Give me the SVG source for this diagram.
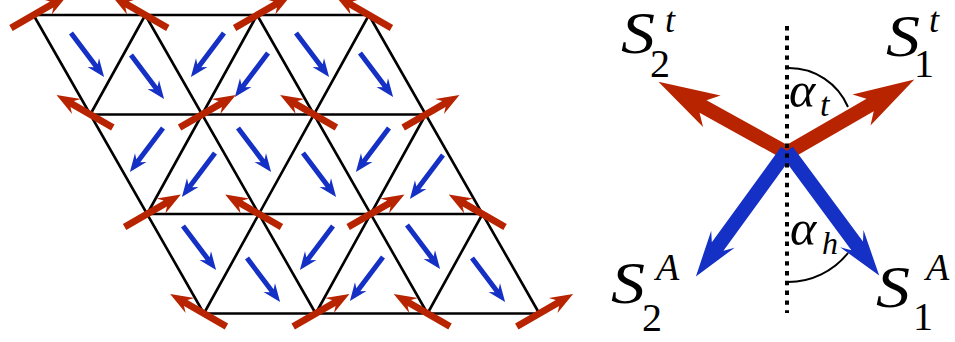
<svg xmlns="http://www.w3.org/2000/svg" xmlns:xlink="http://www.w3.org/1999/xlink" width="955" height="342" viewBox="0 0 955 342">
<style>
.lat{fill:none;stroke:#000;stroke-width:2.6}
.red{fill:#B82300}
.blue{fill:#1530C5}
</style>
<defs>
<path id="rs" class="red" d="M-26,-3.4 H21 L16,-8.8 L39,0 L16,8.8 L21,3.4 H-26 Z"/>
<path id="bs" class="blue" d="M0,-2.5 H41 L37,-7.2 L55,0 L37,7.2 L41,2.5 H0 Z"/>
<path id="rb" class="red" d="M0,-7.2 H96 L86,-18 L147,0 L86,18 L96,7.2 H0 Z"/>
<path id="bb" class="blue" d="M0,-7.2 H118 L109,-14.5 L155,0 L109,14.5 L118,7.2 H0 Z"/>
</defs>
<rect width="955" height="342" fill="#fff"/>
<g id="lattice" class="lat">
<path d="M33.5,15 H368.9 M90.3,114.5 H425.7 M147.1,214 H482.5 M203.9,313.5 H539.3"/>
<path d="M33.5,15 L203.9,313.5 M145.3,15 L315.7,313.5 M257.1,15 L427.5,313.5 M368.9,15 L539.3,313.5"/>
<path d="M145.3,15 L90.3,114.5 M257.1,15 L147.1,214 M368.9,15 L203.9,313.5 M425.7,114.5 L315.7,313.5 M482.5,214 L427.5,313.5"/>
</g>
<g id="blue-spins">
<use xlink:href="#bs" transform="translate(71,33) rotate(53)"/>
<use xlink:href="#bs" transform="translate(131,55) rotate(53)"/>
<use xlink:href="#bs" transform="translate(224,33) rotate(127)"/>
<use xlink:href="#bs" transform="translate(268,53) rotate(127)"/>
<use xlink:href="#bs" transform="translate(296,33) rotate(53)"/>
<use xlink:href="#bs" transform="translate(360,53) rotate(53)"/>
<use xlink:href="#bs" transform="translate(163,128) rotate(127)"/>
<use xlink:href="#bs" transform="translate(215,153) rotate(127)"/>
<use xlink:href="#bs" transform="translate(238,128) rotate(53)"/>
<use xlink:href="#bs" transform="translate(303,153) rotate(53)"/>
<use xlink:href="#bs" transform="translate(389,128) rotate(127)"/>
<use xlink:href="#bs" transform="translate(443,155) rotate(127)"/>
<use xlink:href="#bs" transform="translate(183,226) rotate(53)"/>
<use xlink:href="#bs" transform="translate(247,258) rotate(53)"/>
<use xlink:href="#bs" transform="translate(333,226) rotate(127)"/>
<use xlink:href="#bs" transform="translate(383,257) rotate(127)"/>
<use xlink:href="#bs" transform="translate(407,225) rotate(53)"/>
<use xlink:href="#bs" transform="translate(472,258) rotate(53)"/>
</g>
<g id="red-spins">
<use xlink:href="#rs" transform="translate(33.5,15) rotate(-30)"/>
<use xlink:href="#rs" transform="translate(145.3,15) rotate(-150)"/>
<use xlink:href="#rs" transform="translate(257.1,15) rotate(-30)"/>
<use xlink:href="#rs" transform="translate(368.9,15) rotate(-150)"/>
<use xlink:href="#rs" transform="translate(90.3,114.5) rotate(-150)"/>
<use xlink:href="#rs" transform="translate(202.1,114.5) rotate(-30)"/>
<use xlink:href="#rs" transform="translate(313.9,114.5) rotate(-150)"/>
<use xlink:href="#rs" transform="translate(425.7,114.5) rotate(-30)"/>
<use xlink:href="#rs" transform="translate(147.1,214) rotate(-30)"/>
<use xlink:href="#rs" transform="translate(258.9,214) rotate(-150)"/>
<use xlink:href="#rs" transform="translate(370.7,214) rotate(-30)"/>
<use xlink:href="#rs" transform="translate(482.5,214) rotate(-150)"/>
<use xlink:href="#rs" transform="translate(203.9,313.5) rotate(-150)"/>
<use xlink:href="#rs" transform="translate(315.7,313.5) rotate(-30)"/>
<use xlink:href="#rs" transform="translate(427.5,313.5) rotate(-150)"/>
<use xlink:href="#rs" transform="translate(539.3,313.5) rotate(-30)"/>
</g>
<g id="vectors">
<use xlink:href="#rb" transform="translate(787,153) rotate(-30)"/>
<use xlink:href="#rb" transform="translate(787,153) rotate(-151)"/>
<use xlink:href="#bb" transform="translate(787,151) rotate(53.5)"/>
<use xlink:href="#bb" transform="translate(787,151) rotate(126)"/>
</g>
<g id="axis">
<path d="M787,26 V313" fill="none" stroke="#000" stroke-width="4" stroke-dasharray="4.4 5.4"/>
<path d="M789,68 A64,64 0 0 1 848,107" fill="none" stroke="#000" stroke-width="2"/>
<path d="M788,282 A77,77 0 0 0 848,253" fill="none" stroke="#000" stroke-width="2"/>
</g>
<g id="labels" fill="#000">
<text x="621" y="53" font-size="60" font-family="Liberation Serif" font-style="italic" textLength="34" lengthAdjust="spacingAndGlyphs">S</text>
<text x="650" y="77" font-size="40" font-family="Liberation Serif">2</text>
<text x="665" y="32" font-size="36" font-family="Liberation Serif" font-style="italic">t</text>
<text x="886" y="56" font-size="60" font-family="Liberation Serif" font-style="italic" textLength="34" lengthAdjust="spacingAndGlyphs">S</text>
<text x="914" y="77" font-size="40" font-family="Liberation Serif">1</text>
<text x="929" y="32" font-size="36" font-family="Liberation Serif" font-style="italic">t</text>
<text x="611" y="303" font-size="60" font-family="Liberation Serif" font-style="italic" textLength="34" lengthAdjust="spacingAndGlyphs">S</text>
<text x="642" y="331" font-size="40" font-family="Liberation Serif">2</text>
<text x="656" y="280" font-size="38" font-family="Liberation Serif" font-style="italic">A</text>
<text x="876" y="307" font-size="60" font-family="Liberation Serif" font-style="italic" textLength="34" lengthAdjust="spacingAndGlyphs">S</text>
<text x="913" y="330" font-size="40" font-family="Liberation Serif">1</text>
<text x="926" y="280" font-size="38" font-family="Liberation Serif" font-style="italic">A</text>
<text x="789" y="107" font-size="50" font-family="Liberation Serif" font-style="italic">α</text>
<text x="820" y="116" font-size="34" font-family="Liberation Serif" font-style="italic">t</text>
<text x="790" y="245" font-size="50" font-family="Liberation Serif" font-style="italic">α</text>
<text x="822" y="254" font-size="32" font-family="Liberation Serif" font-style="italic">h</text>
</g>
</svg>
